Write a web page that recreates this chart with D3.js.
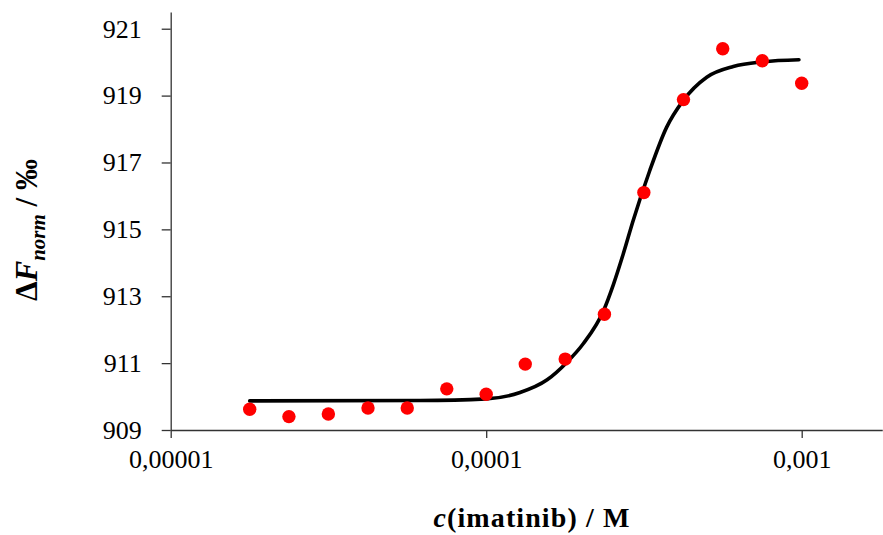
<!DOCTYPE html>
<html>
<head>
<meta charset="utf-8">
<script src="https://cdn.jsdelivr.net/npm/d3@7"></script>
<style>
  html, body { margin: 0; padding: 0; background: #fff; }
  svg { display: block; }
  text { font-family: "Liberation Serif", "Times New Roman", serif; fill: #000; }
</style>
</head>
<body>
<div id="chart"></div>
<script>
// Measured points: concentration (M) and ΔFnorm (‰)
const concentrations = [1.78e-5, 2.37e-5, 3.16e-5, 4.22e-5, 5.62e-5, 7.5e-5, 1.0e-4, 1.33e-4, 1.78e-4, 2.37e-4, 3.16e-4, 4.22e-4, 5.62e-4, 7.5e-4, 1.0e-3];
const fnormValues    = [909.62, 909.40, 909.48, 909.66, 909.66, 910.23, 910.07, 910.97, 911.12, 912.46, 916.10, 918.88, 920.40, 920.04, 919.37];

// Fitted curve
const fitConc   = [1.78e-5, 6.17e-5, 1.0e-4, 1.28e-4, 1.56e-4, 1.80e-4, 2.03e-4, 2.35e-4, 2.53e-4, 2.72e-4, 2.92e-4, 3.30e-4, 3.73e-4, 4.21e-4, 5.00e-4, 6.07e-4, 7.55e-4, 9.8e-4];
const fitValues = [909.87, 909.88, 909.93, 910.12, 910.50, 911.02, 911.58, 912.55, 913.35, 914.27, 915.25, 916.76, 918.05, 918.85, 919.55, 919.87, 920.01, 920.07];

const xTickValues = [1e-5, 1e-4, 1e-3];
const xTickLabels = ["0,00001", "0,0001", "0,001"];
const yTickValues = [909, 911, 913, 915, 917, 919, 921];

const W = 883, H = 535;
const svg = d3.select("#chart").append("svg").attr("width", W).attr("height", H);

const decade = 315.5, x0 = 170.7;
const xMax = 0.0018;
const x = d3.scaleLog().domain([1e-5, xMax]).range([x0, x0 + Math.log10(xMax / 1e-5) * decade]);
const y = d3.scaleLinear().domain([909, 921.5]).range([430, 12]);

const axisColor = "#333";

// Y axis
const gy = svg.append("g").attr("transform", `translate(${x0},0)`)
  .call(d3.axisLeft(y).tickValues(yTickValues).tickSize(9).tickSizeOuter(0).tickPadding(20).tickFormat(d3.format("d")));
gy.selectAll("text").style("font-size", "26px").style("font-family", "Liberation Serif");
gy.selectAll("line, path").attr("stroke", axisColor).attr("stroke-width", 1.3);

// X axis
const gx = svg.append("g").attr("transform", `translate(0,${y(909)})`)
  .call(d3.axisBottom(x).tickValues(xTickValues).tickSize(8).tickSizeOuter(0).tickPadding(12)
    .tickFormat((d, i) => xTickLabels[i]));
gx.selectAll("text").style("font-size", "26px").style("font-family", "Liberation Serif");
gx.selectAll("line, path").attr("stroke", axisColor).attr("stroke-width", 1.3);

// Fit curve
const fitData = fitConc.map((c, i) => [c, fitValues[i]]);
svg.append("path")
  .datum(fitData)
  .attr("fill", "none")
  .attr("stroke", "#000")
  .attr("stroke-width", 3.6)
  .attr("stroke-linecap", "round")
  .attr("d", d3.line().x(d => x(d[0])).y(d => y(d[1])).curve(d3.curveMonotoneX));

// Points
svg.append("g").selectAll("circle")
  .data(concentrations.map((c, i) => [c, fnormValues[i]]))
  .join("circle")
  .attr("cx", d => x(d[0]))
  .attr("cy", d => y(d[1]))
  .attr("r", 6.7)
  .attr("fill", "#ff0000");

// X title
const xt = svg.append("text")
  .attr("x", 532).attr("y", 527)
  .attr("text-anchor", "middle")
  .style("font-size", "28px").style("font-weight", "bold").style("letter-spacing", "1.1px");
xt.append("tspan").style("font-style", "italic").text("c");
xt.append("tspan").text("(imatinib) / M");

// Y title
const yt = svg.append("text")
  .attr("transform", "translate(37,230) rotate(-90)")
  .attr("text-anchor", "middle")
  .style("font-size", "31px").style("font-weight", "bold");
yt.append("tspan").text("Δ");
yt.append("tspan").style("font-style", "italic").text("F");
yt.append("tspan").style("font-style", "italic").style("font-size", "21px").attr("dy", 8).text("norm");
yt.append("tspan").attr("dy", -8).text(" / ‰");
</script>
</body>
</html>
